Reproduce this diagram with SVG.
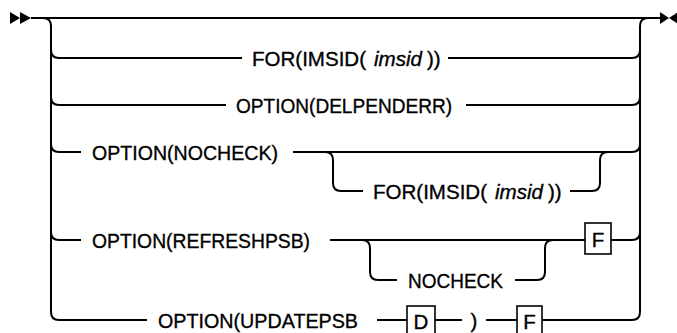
<svg xmlns="http://www.w3.org/2000/svg" width="677" height="333" viewBox="0 0 677 333">
<style>
.t{font-family:"Liberation Sans",Arial,sans-serif;font-size:20.5px;fill:#000;stroke:#000;stroke-width:0.35}
.i{font-style:italic}
.c{fill:none;stroke:#000;stroke-width:2}
.b{fill:#fff;stroke:#000;stroke-width:1.6}
.m{fill:#000;stroke:none}
</style>
<rect width="677" height="333" fill="#fff"/>
<g id="connectors">
<polygon class="m" points="10,12 10,24 20,18"/>
<polygon class="m" points="20,12 20,24 31,18"/>
<polygon class="m" points="660,12 660,24 669,18"/>
<polygon class="m" points="669,18 678,12 678,24"/>
<path class="c" d="M31,18 H660"/>
<path class="c" d="M43,18 Q51,18 51,26 V312 Q51,320 59,320 H147"/>
<path class="c" d="M640,312 V26 Q640,18 648,18"/>
<path class="c" d="M51,50 Q51,58 59,58 H242"/>
<path class="c" d="M448,58 H632 Q640,58 640,50"/>
<path class="c" d="M51,97 Q51,105 59,105 H226"/>
<path class="c" d="M466,105 H632 Q640,105 640,97"/>
<path class="c" d="M51,144 Q51,152 59,152 H81"/>
<path class="c" d="M293,152 H632 Q640,152 640,144"/>
<path class="c" d="M325,152 Q333,152 333,160 V183 Q333,191 341,191 H363"/>
<path class="c" d="M570,191 H592 Q600,191 600,183 V160 Q600,152 608,152"/>
<path class="c" d="M51,232 Q51,240 59,240 H81"/>
<path class="c" d="M330,240 H585"/>
<path class="c" d="M611,240 H632 Q640,240 640,232"/>
<path class="c" d="M362,240 Q370,240 370,248 V272 Q370,280 378,280 H397"/>
<path class="c" d="M515,280 H537 Q545,280 545,272 V248 Q545,240 553,240"/>
<path class="c" d="M377,320 H407"/>
<path class="c" d="M435,320 H462"/>
<path class="c" d="M486,320 H517"/>
<path class="c" d="M542,320 H632 Q640,320 640,312"/>
</g>
<g id="for-imsid-1"><text class="t" y="65.5"><tspan x="252" textLength="114" lengthAdjust="spacingAndGlyphs">FOR(IMSID(</tspan><tspan class="i" x="374" textLength="48" lengthAdjust="spacingAndGlyphs">imsid</tspan><tspan x="427">))</tspan></text></g>
<g id="delpenderr"><text class="t" x="236" y="112.5" textLength="216" lengthAdjust="spacingAndGlyphs">OPTION(DELPENDERR)</text></g>
<g id="nocheck-opt"><text class="t" x="92" y="159.5" textLength="186" lengthAdjust="spacingAndGlyphs">OPTION(NOCHECK)</text></g>
<g id="for-imsid-2"><text class="t" y="198.5"><tspan x="373" textLength="114" lengthAdjust="spacingAndGlyphs">FOR(IMSID(</tspan><tspan class="i" x="495" textLength="48" lengthAdjust="spacingAndGlyphs">imsid</tspan><tspan x="548">))</tspan></text></g>
<g id="refreshpsb"><text class="t" x="92" y="247.5" textLength="218" lengthAdjust="spacingAndGlyphs">OPTION(REFRESHPSB)</text></g>
<g id="nocheck-sub"><text class="t" x="408" y="287.5" textLength="95" lengthAdjust="spacingAndGlyphs">NOCHECK</text></g>
<g id="f-box-1"><rect class="b" x="585" y="223" width="26" height="31"/><text class="t" x="598" y="246.5" text-anchor="middle">F</text></g>
<g id="updatepsb"><text class="t" x="158" y="327.5" textLength="200" lengthAdjust="spacingAndGlyphs">OPTION(UPDATEPSB</text></g>
<g id="d-box"><rect class="b" x="407" y="306" width="28" height="31"/><text class="t" x="421" y="328.5" text-anchor="middle">D</text></g>
<g id="close-paren"><text class="t" x="474" y="327.5" text-anchor="middle">)</text></g>
<g id="f-box-2"><rect class="b" x="517" y="306" width="25" height="31"/><text class="t" x="529.5" y="328.5" text-anchor="middle">F</text></g>
</svg>
